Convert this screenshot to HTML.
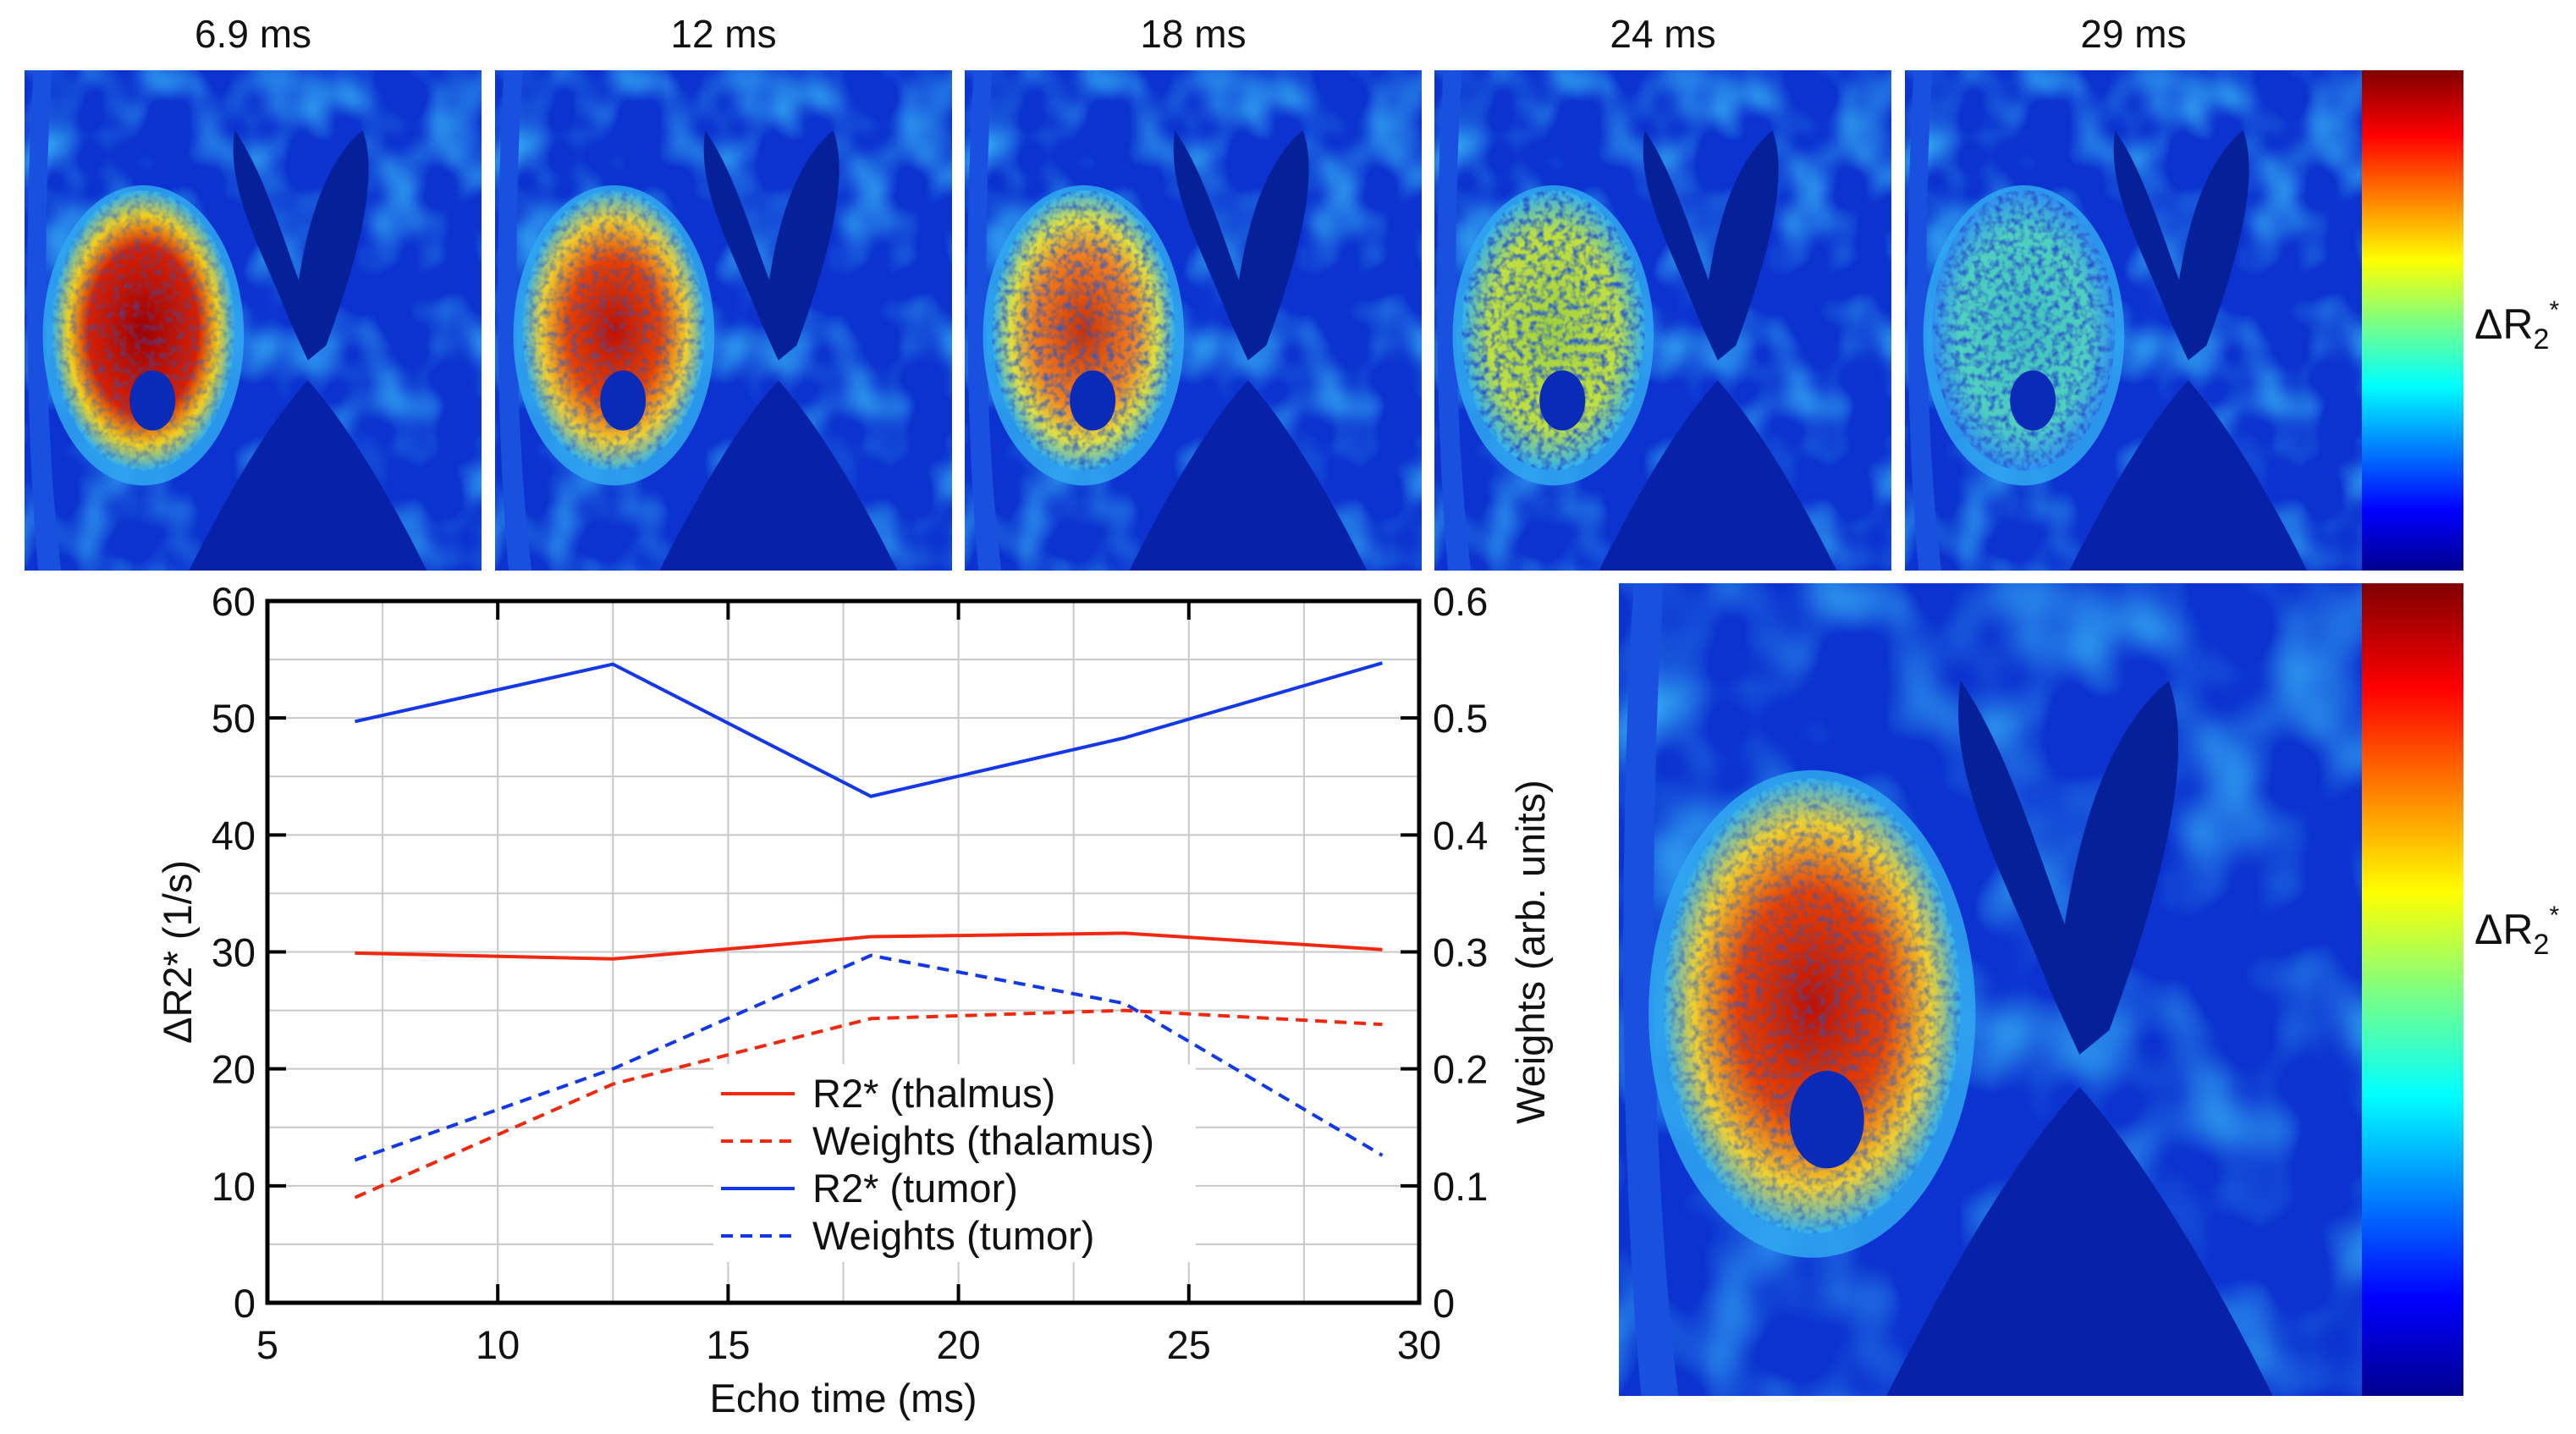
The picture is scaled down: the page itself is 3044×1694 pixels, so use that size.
<!DOCTYPE html>
<html><head><meta charset="utf-8">
<style>
html,body{margin:0;padding:0;background:#fff;}
body{width:3044px;height:1694px;overflow:hidden;position:relative;font-family:"Liberation Sans",sans-serif;}
svg{position:absolute;left:0;top:0;}
</style></head>
<body>
<svg id="fig" width="3044" height="1694" viewBox="0 0 3044 1694" xmlns="http://www.w3.org/2000/svg">
<defs>
  <linearGradient id="jet" x1="0" y1="1" x2="0" y2="0">
    <stop offset="0" stop-color="#00008f"/>
    <stop offset="0.12" stop-color="#0000ff"/>
    <stop offset="0.37" stop-color="#00ffff"/>
    <stop offset="0.5" stop-color="#80ff80"/>
    <stop offset="0.62" stop-color="#ffff00"/>
    <stop offset="0.87" stop-color="#ff0000"/>
    <stop offset="1" stop-color="#800000"/>
  </linearGradient>
  <filter id="noise" x="0" y="0" width="100%" height="100%">
    <feTurbulence type="fractalNoise" baseFrequency="0.08" numOctaves="2" seed="3"/>
    <feColorMatrix type="matrix" values="0 0 0 0 0.05  0 0 0 0 0.6  0 0 0 0 1  0 0 0 1.8 -0.8"/>
  </filter>
  <filter id="speck" x="0" y="0" width="100%" height="100%">
    <feTurbulence type="fractalNoise" baseFrequency="0.12" numOctaves="2" seed="7"/>
    <feColorMatrix type="matrix" values="0 0 0 0 0.02  0 0 0 0 0.1  0 0 0 0 0.6  0 0 0 2.4 -1.0"/>
  </filter>
  <radialGradient id="tumor0" cx="0.5" cy="0.5" r="0.5">
    <stop offset="0" stop-color="#a00000"/>
    <stop offset="0.6" stop-color="#d82000"/>
    <stop offset="0.82" stop-color="#f0d020"/>
    <stop offset="1" stop-color="#30b0f0"/>
  </radialGradient>
  <radialGradient id="tumor1" cx="0.5" cy="0.5" r="0.5">
    <stop offset="0" stop-color="#c01000"/>
    <stop offset="0.5" stop-color="#e84000"/>
    <stop offset="0.8" stop-color="#f0d030"/>
    <stop offset="1" stop-color="#30b0f0"/>
  </radialGradient>
  <radialGradient id="tumor2" cx="0.5" cy="0.5" r="0.5">
    <stop offset="0" stop-color="#d03000"/>
    <stop offset="0.55" stop-color="#f08020"/>
    <stop offset="0.8" stop-color="#e0e040"/>
    <stop offset="1" stop-color="#30b0f0"/>
  </radialGradient>
  <radialGradient id="tumor3" cx="0.5" cy="0.5" r="0.5">
    <stop offset="0" stop-color="#a0d040"/>
    <stop offset="0.7" stop-color="#c0e040"/>
    <stop offset="1" stop-color="#30b0f0"/>
  </radialGradient>
  <radialGradient id="tumor4" cx="0.5" cy="0.5" r="0.5">
    <stop offset="0" stop-color="#40c0c0"/>
    <stop offset="0.7" stop-color="#50d0c0"/>
    <stop offset="1" stop-color="#3090f0"/>
  </radialGradient>
  <symbol id="brain" viewBox="0 0 100 100" preserveAspectRatio="none">
    <rect width="100" height="100" fill="#0c33d0"/>
    <rect width="100" height="100" filter="url(#noise)"/>
    <path d="M46,12 C52,20 56,32 60,42 C62,30 66,18 74,12 C78,22 72,40 66,55 L62,58 L58,50 C52,36 44,24 46,12Z" fill="#06209a"/>
    <path d="M36,100 C46,82 54,70 62,62 C70,70 80,85 88,100Z" fill="#0722a8"/>
    <path d="M2,0 L6,0 C4,30 4,70 8,100 L3,100 C0,70 0,30 2,0Z" fill="#1a50e0"/>
  </symbol>
</defs>

<g font-size="46" text-anchor="middle" fill="#111">
  <text x="299" y="56">6.9 ms</text>
  <text x="855" y="56">12 ms</text>
  <text x="1410" y="56">18 ms</text>
  <text x="1965" y="56">24 ms</text>
  <text x="2521" y="56">29 ms</text>
</g>

<g id="panels"></g>

<rect x="2791" y="83" width="120" height="591" fill="url(#jet)"/>
<rect x="2791" y="689" width="120" height="960" fill="url(#jet)"/>
<text x="2924" y="400" font-size="50" fill="#111">ΔR<tspan font-size="34" dy="12">2</tspan><tspan font-size="30" dy="-36">*</tspan></text>
<text x="2924" y="1115" font-size="50" fill="#111">ΔR<tspan font-size="34" dy="12">2</tspan><tspan font-size="30" dy="-36">*</tspan></text>

<g id="chart"></g>
</svg>

<script>
const NS="http://www.w3.org/2000/svg";
function mk(tag,attrs,parent){const e=document.createElementNS(NS,tag);for(const k in attrs)e.setAttribute(k,attrs[k]);if(parent)parent.appendChild(e);return e;}

const panelX=[29,585,1140,1695,2251];
const speckOpacity=[0.5,0.6,0.8,1,1];
const panels=document.getElementById('panels');
const fig=document.getElementById('fig');
const defs=fig.querySelector('defs');
function brainPanel(x,y,w,h,gi,sp,name,idx){
  const g=mk('g',{},panels);
  
  
  mk('use',{href:'#brain',x:x,y:y,width:w,height:h},g);
  const cp=mk('clipPath',{id:'tc'+idx},defs);
  mk('ellipse',{cx:x+w*0.26,cy:y+h*0.52,rx:w*0.2,ry:h*0.28},cp);
  mk('ellipse',{cx:x+w*0.26,cy:y+h*0.53,rx:w*0.22,ry:h*0.3,fill:'#30a8f0',opacity:0.85},g);
  mk('ellipse',{cx:x+w*0.26,cy:y+h*0.52,rx:w*0.2,ry:h*0.28,fill:'url(#tumor'+gi+')'},g);
  mk('rect',{x:x,y:y,width:w,height:h,filter:'url(#speck)','clip-path':'url(#tc'+idx+')',opacity:sp},g);
  mk('ellipse',{cx:x+w*0.28,cy:y+h*0.66,rx:w*0.05,ry:h*0.06,fill:'#0a2ab8'},g);
}
panelX.forEach((x,i)=>brainPanel(x,83,540,591,i,speckOpacity[i],'mri-panel-'+(i+1),i));
brainPanel(1913,689,878,960,1,0.6,'mri-panel-large',9);

// chart data
const echoTimes=[6.9,12.5,18.1,23.6,29.2];
const r2Thalamus=[29.9,29.4,31.3,31.6,30.2];
const r2Tumor=[49.7,54.6,43.3,48.3,54.7];
const wThalamus=[0.09,0.187,0.243,0.25,0.238];
const wTumor=[0.122,0.2,0.297,0.256,0.126];
const xTicks=[5,10,15,20,25,30];
const yTicks=[0,10,20,30,40,50,60];
const y2Ticks=['0','0.1','0.2','0.3','0.4','0.5','0.6'];

const L=316,R=1677,T=710,B=1539;
const xs=v=>L+(v-5)/25*(R-L);
const ys=v=>B-v/60*(B-T);
const ys2=v=>B-v/0.6*(B-T);
const chart=document.getElementById('chart');

for(let v=5;v<=30;v+=2.5){const l=mk('line',{x1:xs(v),x2:xs(v),y1:T,y2:B,stroke:'#c8c8c8','stroke-width':2},chart);}
for(let v=0;v<=60;v+=5){const l=mk('line',{x1:L,x2:R,y1:ys(v),y2:ys(v),stroke:'#c8c8c8','stroke-width':2},chart);}

function series(vals,scale,color,dash,name){
  const p=mk('polyline',{points:echoTimes.map((t,i)=>xs(t)+','+scale(vals[i])).join(' '),fill:'none',stroke:color,'stroke-width':4,'stroke-dasharray':dash||'none'},chart);
  
  
}
series(r2Tumor,ys,'#1438e8',null,'line-r2-tumor');
series(r2Thalamus,ys,'#f02810',null,'line-r2-thalamus');
series(wTumor,ys2,'#1438e8','14 9','line-weights-tumor');
series(wThalamus,ys2,'#f02810','14 9','line-weights-thalamus');

const fr=mk('rect',{x:L,y:T,width:R-L,height:B-T,fill:'none',stroke:'#000','stroke-width':5},chart);


xTicks.forEach(v=>{
  mk('line',{x1:xs(v),x2:xs(v),y1:B,y2:B-22,stroke:'#000','stroke-width':4},chart);
  mk('line',{x1:xs(v),x2:xs(v),y1:T,y2:T+22,stroke:'#000','stroke-width':4},chart);
  const t=mk('text',{x:xs(v),y:B+66,'font-size':47,'text-anchor':'middle',fill:'#111'},chart);t.textContent=v;
  
  
});
yTicks.forEach((v,i)=>{
  mk('line',{x1:L,x2:L+22,y1:ys(v),y2:ys(v),stroke:'#000','stroke-width':4},chart);
  mk('line',{x1:R,x2:R-22,y1:ys(v),y2:ys(v),stroke:'#000','stroke-width':4},chart);
  const t=mk('text',{x:L-14,y:ys(v)+17,'font-size':47,'text-anchor':'end',fill:'#111'},chart);t.textContent=v;
  
  
  const t2=mk('text',{x:R+16,y:ys(v)+17,'font-size':47,'text-anchor':'start',fill:'#111'},chart);t2.textContent=y2Ticks[i];
  
  
});
const xt=mk('text',{x:(L+R)/2,y:1668,'font-size':47,'text-anchor':'middle',fill:'#111'},chart);xt.textContent='Echo time (ms)';


const yt=mk('text',{x:0,y:0,'font-size':47,'text-anchor':'middle',fill:'#111',transform:'translate(226,'+((T+B)/2)+') rotate(-90)'},chart);yt.textContent='ΔR2* (1/s)';


const yt2=mk('text',{x:0,y:0,'font-size':47,'text-anchor':'middle',fill:'#111',transform:'translate(1825,'+((T+B)/2)+') rotate(-90)'},chart);yt2.textContent='Weights (arb. units)';



const lg=mk('g',{},chart);


mk('rect',{x:843,y:1257,width:570,height:234,fill:'#fff'},lg);
const legNames=['R2* (thalmus)','Weights (thalamus)','R2* (tumor)','Weights (tumor)'];
const legColors=['#f02810','#f02810','#1438e8','#1438e8'];
const legDash=['none','14 9','none','14 9'];
legNames.forEach((n,i)=>{
  const y=1292+i*56;
  const ln=mk('line',{x1:852,x2:939,y1:y,y2:y,stroke:legColors[i],'stroke-width':4,'stroke-dasharray':legDash[i]},lg);
  
  
  const t=mk('text',{x:960,y:y+16,'font-size':47,fill:'#111'},lg);t.textContent=n;
  
  
});
</script>
</body></html>
